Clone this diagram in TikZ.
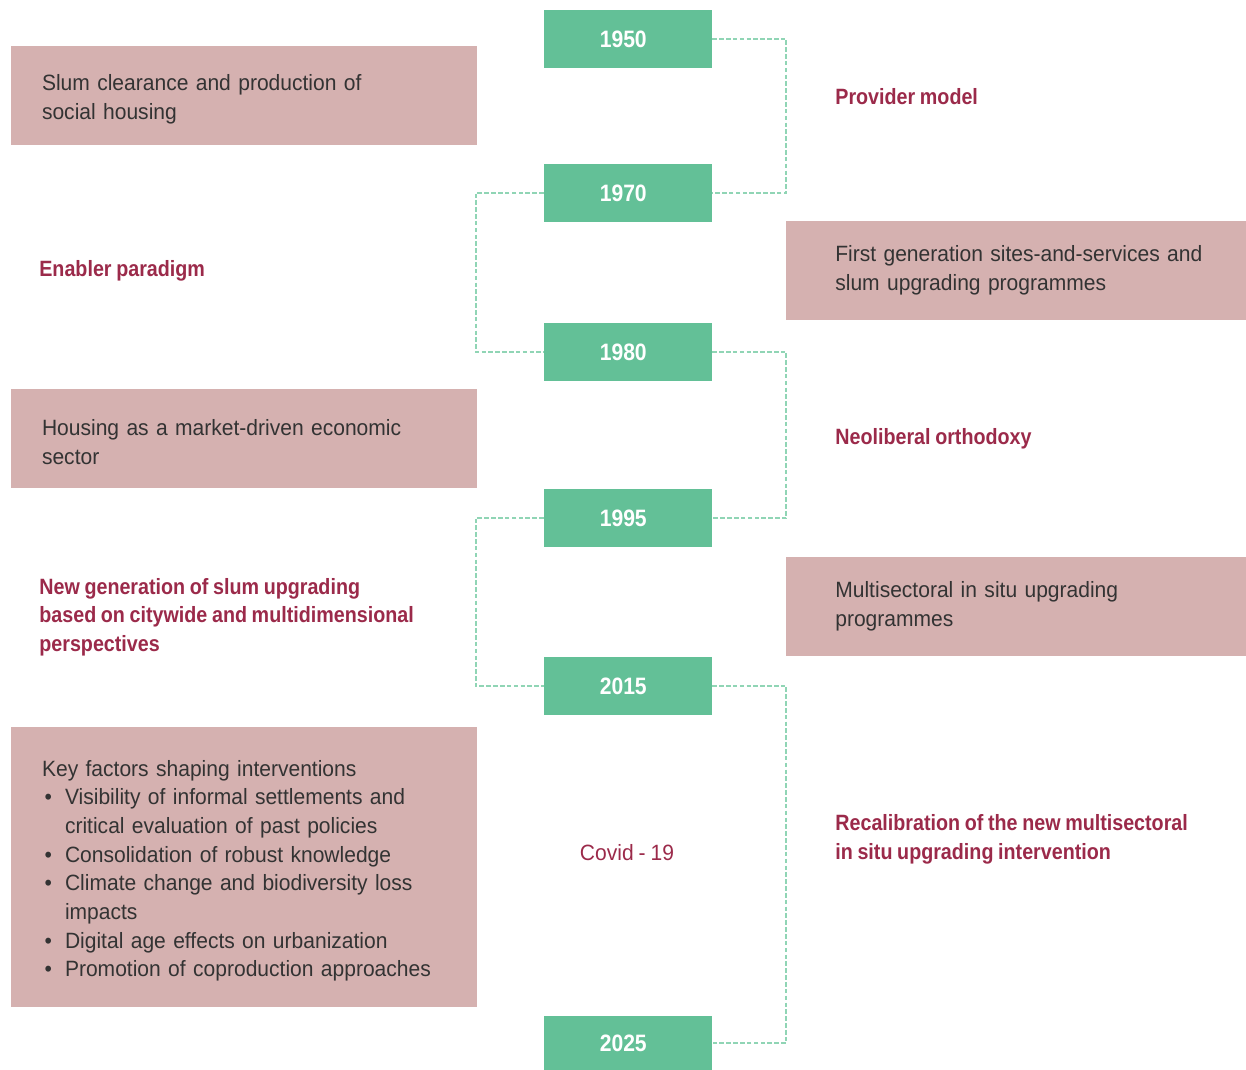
\documentclass[tikz,border=0pt]{standalone}
\usepackage{fontspec}
\setmainfont{Liberation Sans}[FakeStretch=0.95,WordSpace=0.85,
  BoldFeatures={FakeStretch=0.89}]
\usepackage{tikz}
\usetikzlibrary{positioning}

\definecolor{yeargreen}{HTML}{63C097}
\definecolor{dashgreen}{HTML}{90D5B5}
\definecolor{boxpink}{HTML}{D5B1B0}
\definecolor{labelred}{HTML}{9B2A4A}
\definecolor{bodytext}{HTML}{333333}

\newcommand{\bodyfont}{\fontsize{12.6}{16.3}\selectfont}
\newcommand{\itm}{\makebox[0.46cm][l]{\hspace{0.05cm}\textbullet}}
\newcommand{\yr}[1]{#1\kern0.19cm}

\begin{document}
\begin{tikzpicture}[x=0.02cm,y=-0.02cm,
        year/.style={rectangle,fill=yeargreen,text=white,minimum width=3.36cm,
                     minimum height=1.16cm,inner sep=0pt,
                     font=\fontsize{13.5}{16}\selectfont\bfseries},
        pinkbox/.style={rectangle,fill=boxpink,text=bodytext,align=left,
                        inner ysep=0pt,font=\bodyfont},
        era/.style={anchor=west,align=left,inner sep=0pt,text=labelred,
                    font=\bodyfont\bfseries},
        link/.style={dashgreen,line width=1pt,dash pattern=on 2.6pt off 1.3pt}]
  \useasboundingbox (0,0) rectangle (1246,1070);
  % years on the time line
  \node[year] (y1950) at (628,39) {\yr{1950}};
  \node[year] (y1970) at (628,193) {\yr{1970}};
  \node[year] (y1980) at (628,352) {\yr{1980}};
  \node[year] (y1995) at (628,518) {\yr{1995}};
  \node[year] (y2015) at (628,686) {\yr{2015}};
  \node[year,minimum height=1.08cm] (y2025) at (628,1043) {\yr{2025}};
  % dashed brackets
  \draw[link] (y1950.east) -- ++(74,0) |- (y1970.east);
  \draw[link] (y1970.west) -- ++(-68,0) |- (y1980.west);
  \draw[link] (y1980.east) -- ++(74,0) |- (y1995.east);
  \draw[link] (y1995.west) -- ++(-68,0) |- (y2015.west);
  \draw[link] (y2015.east) -- ++(74,0) |- (y2025.east);
  % boxes left
  \node[pinkbox,inner xsep=0.62cm,text width=8.08cm,minimum height=1.98cm]
    (clearance) at (244,95.5) {\\[-0.1cm]Slum clearance and production of\\social housing};
  \node[pinkbox,inner xsep=0.62cm,text width=8.08cm,minimum height=1.98cm]
    (market) at (244,438.5) {\\[-0.1cm]Housing as a market-driven economic\\sector};
  \node[pinkbox,inner xsep=0.62cm,text width=8.08cm,minimum height=5.6cm]
    (factors) at (244,867) {\\[-0.1cm]Key factors shaping interventions\\
      \itm Visibility of informal settlements and\\
      \hspace*{0.46cm}critical evaluation of past policies\\
      \itm Consolidation of robust knowledge\\
      \itm Climate change and biodiversity loss\\
      \hspace*{0.46cm}impacts\\
      \itm Digital age effects on urbanization\\
      \itm Promotion of coproduction approaches};
  % boxes right
  \node[pinkbox,anchor=west,inner xsep=0.98cm,text width=7.5cm,minimum height=1.98cm]
    (sites) at (786,270.5) {First generation sites-and-services and\\slum upgrading programmes};
  \node[pinkbox,anchor=west,inner xsep=0.98cm,text width=7.5cm,minimum height=1.98cm]
    (insitu) at (786,606.5) {Multisectoral in situ upgrading\\programmes};
  % paradigms
  \node[era] (provider) at (835,97) {Provider model};
  \node[era] (enabler) at (39,271) {Enabler paradigm};
  \node[era] (neoliberal) at (835,439) {Neoliberal orthodoxy};
  \node[era] (newgen) at (39,617) {New generation of slum upgrading\\based on citywide and multidimensional\\perspectives};
  \node[era] (recal) at (835,839) {Recalibration of the new multisectoral\\in situ upgrading intervention};
  \node[text=labelred,font=\bodyfont] (covid) at (627,853) {Covid - 19};
\end{tikzpicture}
\end{document}
